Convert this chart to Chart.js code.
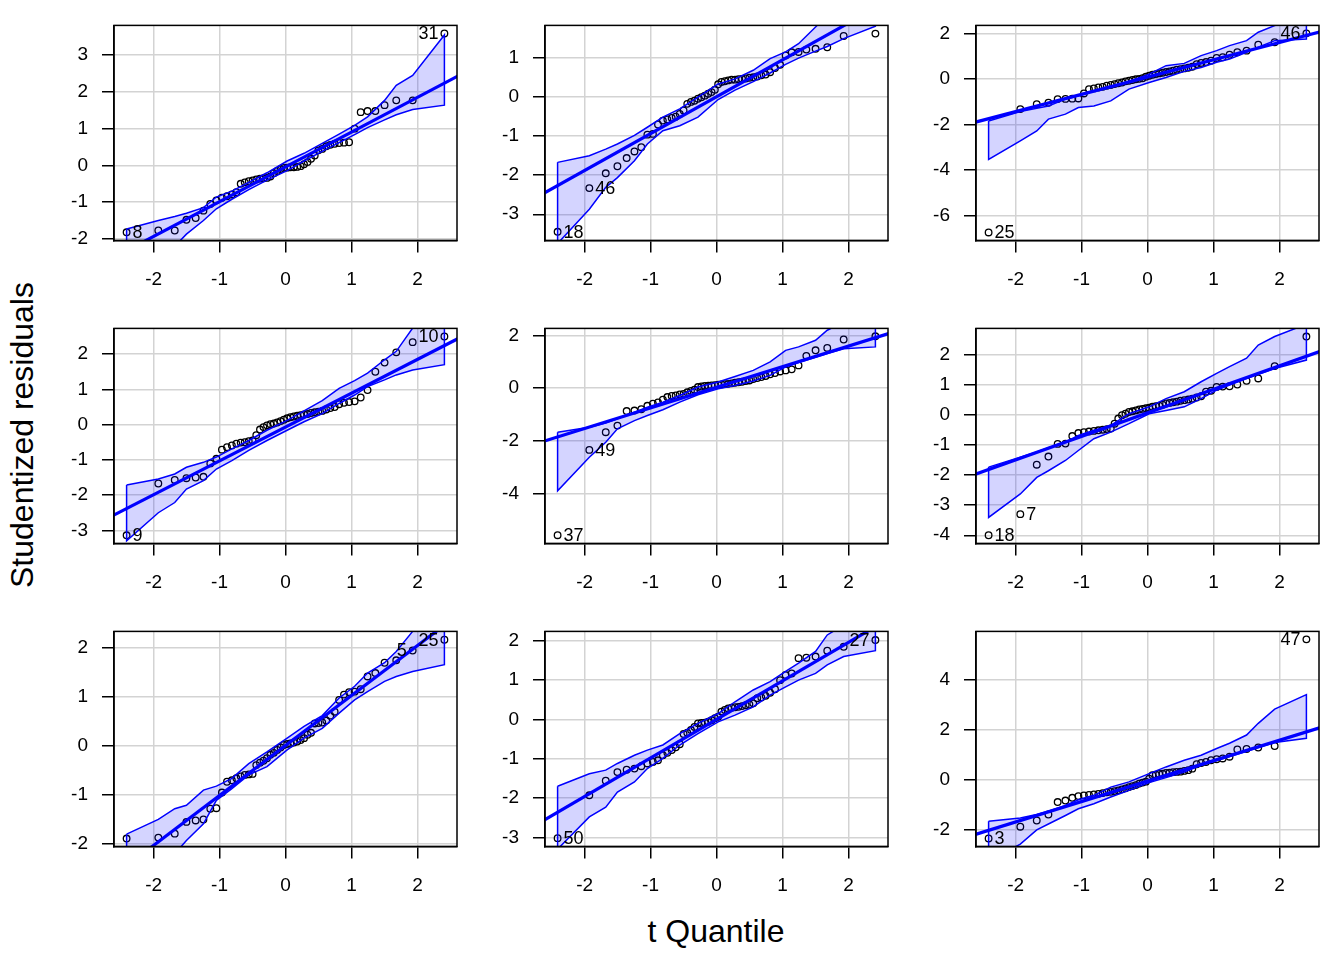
<!DOCTYPE html>
<html><head><meta charset="utf-8">
<script src="https://cdn.jsdelivr.net/npm/chart.js@4.4.1/dist/chart.umd.min.js"></script>
<style>
html,body{margin:0;padding:0;background:#fff;}
#wrap{position:relative;width:1344px;height:960px;overflow:hidden;font-family:"Liberation Sans",Arial,sans-serif;}
canvas{position:absolute;}
.ttl{position:absolute;font-size:32px;line-height:1;color:#000;white-space:nowrap;}
#ylab{left:22px;top:435px;transform:translate(-50%,-50%) rotate(-90deg);}
#xlab{left:716px;top:931px;transform:translate(-50%,-50%);}
</style></head><body>
<div id="wrap">
 <div class="ttl" id="ylab">Studentized residuals</div>
 <div class="ttl" id="xlab">t Quantile</div>
</div>
<script>
// theoretical t quantiles (x positions of the 50 points)
const tQuantiles = [-2.409,-1.928,-1.679,-1.502,-1.362,-1.244,-1.140,-1.048,-0.964,-0.887,-0.813,-0.745,-0.679,-0.618,-0.557,-0.499,-0.443,-0.387,-0.334,-0.281,-0.229,-0.177,-0.126,-0.075,-0.025,0.025,0.075,0.126,0.177,0.229,0.281,0.334,0.387,0.443,0.499,0.557,0.618,0.679,0.745,0.813,0.887,0.964,1.048,1.140,1.244,1.362,1.502,1.679,1.928,2.409];
// quantiles at which the envelope is read
const envQuantiles = [-2.409,-1.928,-1.679,-1.502,-1.244,-1.048,-0.813,-0.557,-0.281,0.025,0.281,0.557,0.813,1.048,1.244,1.502,1.679,1.928,2.409];
const xTicks = [-2,-1,0,1,2];

// sorted studentized residuals, panel by panel
const resid1 = [-1.82,-1.77,-1.77,-1.48,-1.43,-1.23,-1.05,-0.95,-0.88,-0.84,-0.79,-0.73,-0.50,-0.46,-0.43,-0.41,-0.38,-0.36,-0.35,-0.34,-0.30,-0.21,-0.15,-0.10,-0.07,-0.06,-0.05,-0.05,-0.04,-0.02,0.03,0.09,0.18,0.27,0.41,0.45,0.52,0.56,0.59,0.61,0.62,0.63,1.00,1.45,1.48,1.48,1.64,1.77,1.77,3.59];
const resid2 = [-3.45,-2.33,-1.95,-1.77,-1.56,-1.39,-1.28,-0.96,-0.94,-0.70,-0.60,-0.57,-0.53,-0.50,-0.43,-0.34,-0.17,-0.12,-0.09,-0.04,0.00,0.04,0.09,0.13,0.19,0.33,0.39,0.41,0.43,0.45,0.45,0.46,0.47,0.48,0.50,0.51,0.53,0.56,0.58,0.64,0.75,0.83,1.07,1.15,1.16,1.22,1.24,1.28,1.57,1.63];
const resid3 = [-6.74,-1.32,-1.10,-1.04,-0.88,-0.87,-0.86,-0.85,-0.63,-0.44,-0.41,-0.37,-0.34,-0.29,-0.26,-0.22,-0.18,-0.15,-0.10,-0.07,-0.04,-0.01,0.01,0.04,0.10,0.15,0.19,0.22,0.25,0.28,0.31,0.34,0.37,0.41,0.44,0.47,0.50,0.54,0.66,0.71,0.75,0.81,0.93,0.96,1.07,1.18,1.25,1.51,1.62,2.01];
const resid4 = [-3.14,-1.67,-1.57,-1.52,-1.50,-1.48,-1.10,-0.97,-0.71,-0.64,-0.59,-0.54,-0.51,-0.50,-0.47,-0.45,-0.30,-0.14,-0.07,-0.02,0.01,0.03,0.06,0.10,0.14,0.18,0.21,0.23,0.25,0.27,0.29,0.30,0.33,0.35,0.37,0.39,0.43,0.47,0.50,0.58,0.62,0.64,0.66,0.77,0.98,1.50,1.76,2.05,2.34,2.50];
const resid5 = [-5.57,-2.34,-1.67,-1.42,-0.87,-0.85,-0.80,-0.67,-0.59,-0.54,-0.44,-0.34,-0.30,-0.28,-0.24,-0.22,-0.16,-0.11,-0.06,0.04,0.06,0.08,0.09,0.10,0.11,0.13,0.14,0.15,0.16,0.18,0.20,0.22,0.24,0.27,0.29,0.34,0.38,0.42,0.46,0.52,0.57,0.63,0.67,0.71,0.86,1.22,1.43,1.52,1.84,1.96];
const resid6 = [-4.00,-3.30,-1.66,-1.39,-0.97,-0.96,-0.71,-0.61,-0.58,-0.56,-0.54,-0.52,-0.50,-0.48,-0.46,-0.30,-0.13,-0.02,0.03,0.09,0.11,0.14,0.17,0.19,0.21,0.23,0.26,0.28,0.30,0.33,0.37,0.39,0.41,0.43,0.46,0.48,0.50,0.53,0.57,0.61,0.76,0.79,0.92,0.93,0.94,1.00,1.12,1.20,1.61,2.59];
const resid7 = [-1.89,-1.87,-1.79,-1.55,-1.52,-1.50,-1.28,-1.27,-0.95,-0.73,-0.70,-0.66,-0.62,-0.59,-0.58,-0.57,-0.39,-0.34,-0.30,-0.25,-0.18,-0.14,-0.08,-0.03,0.02,0.04,0.05,0.07,0.09,0.12,0.16,0.23,0.27,0.46,0.47,0.48,0.52,0.62,0.70,0.94,1.05,1.10,1.11,1.16,1.42,1.49,1.70,1.75,1.95,2.17];
const resid8 = [-3.02,-1.93,-1.56,-1.34,-1.28,-1.25,-1.19,-1.12,-1.08,-1.04,-0.91,-0.85,-0.78,-0.71,-0.63,-0.37,-0.34,-0.27,-0.19,-0.10,-0.09,-0.08,-0.06,-0.02,0.03,0.07,0.20,0.24,0.28,0.30,0.31,0.32,0.34,0.36,0.38,0.41,0.54,0.56,0.60,0.68,0.77,1.00,1.13,1.17,1.56,1.57,1.60,1.75,1.85,2.02];
const resid9 = [-2.36,-1.89,-1.64,-1.40,-0.90,-0.84,-0.73,-0.66,-0.63,-0.61,-0.59,-0.57,-0.54,-0.51,-0.49,-0.46,-0.43,-0.39,-0.35,-0.30,-0.26,-0.22,-0.16,-0.12,-0.08,0.04,0.18,0.20,0.23,0.24,0.27,0.28,0.30,0.31,0.32,0.35,0.38,0.44,0.62,0.67,0.71,0.78,0.82,0.85,0.92,1.21,1.23,1.29,1.35,5.63];

// confidence envelopes (upper / lower) at envQuantiles
const env1Upper = [-1.73,-1.50,-1.39,-1.30,-1.15,-0.86,-0.70,-0.46,-0.20,0.12,0.33,0.60,0.85,1.09,1.32,1.77,2.18,2.45,3.55];
const env1Lower = [-2.70,-2.45,-2.20,-1.87,-1.50,-1.18,-0.92,-0.66,-0.40,-0.14,0.12,0.38,0.62,0.84,1.03,1.24,1.38,1.52,1.64];
const env2Upper = [-1.67,-1.50,-1.33,-1.20,-0.98,-0.77,-0.51,-0.30,0.00,0.34,0.47,0.69,0.99,1.16,1.37,1.80,2.10,2.40,3.00];
const env2Lower = [-3.75,-2.87,-2.31,-2.06,-1.63,-1.20,-0.86,-0.73,-0.51,-0.06,0.18,0.40,0.62,0.84,1.00,1.18,1.30,1.50,1.82];
const env3Upper = [-1.84,-1.43,-1.28,-1.18,-0.88,-0.74,-0.51,-0.37,-0.10,0.22,0.59,0.69,1.03,1.25,1.47,1.69,2.06,2.35,2.70];
const env3Lower = [-3.53,-2.72,-2.28,-1.76,-1.54,-1.25,-1.18,-0.96,-0.44,-0.15,0.07,0.34,0.51,0.74,0.88,1.18,1.40,1.69,1.76];
const env4Upper = [-1.71,-1.54,-1.40,-1.21,-1.07,-0.92,-0.69,-0.45,-0.16,0.12,0.39,0.68,1.03,1.25,1.46,1.84,2.08,2.74,2.95];
const env4Lower = [-3.30,-2.50,-2.21,-1.83,-1.59,-1.26,-1.02,-0.73,-0.45,-0.16,0.08,0.31,0.60,0.84,1.08,1.27,1.41,1.55,1.70];
const env5Upper = [-1.67,-1.48,-1.32,-1.16,-0.91,-0.72,-0.53,-0.28,0.04,0.23,0.44,0.67,0.99,1.43,1.56,1.81,2.19,2.50,2.70];
const env5Lower = [-3.89,-2.62,-2.05,-1.54,-1.23,-1.04,-0.82,-0.53,-0.25,-0.03,0.10,0.27,0.48,0.80,0.97,1.17,1.31,1.49,1.56];
const env6Upper = [-1.74,-1.41,-1.24,-1.10,-0.91,-0.69,-0.52,-0.36,0.03,0.26,0.53,0.76,1.09,1.37,1.59,1.87,2.31,2.59,3.00];
const env6Lower = [-3.41,-2.63,-2.08,-1.86,-1.52,-1.19,-0.80,-0.58,-0.30,0.03,0.14,0.26,0.53,0.81,0.98,1.20,1.34,1.53,1.81];
const env7Upper = [-1.80,-1.50,-1.28,-1.21,-0.90,-0.82,-0.66,-0.36,-0.12,0.16,0.40,0.62,0.98,1.22,1.49,1.70,1.93,2.34,2.80];
const env7Lower = [-3.00,-2.50,-2.20,-1.93,-1.59,-1.11,-0.87,-0.59,-0.42,-0.08,0.16,0.36,0.67,0.94,1.11,1.32,1.42,1.52,1.66];
const env8Upper = [-1.70,-1.38,-1.29,-1.12,-0.91,-0.78,-0.65,-0.36,-0.10,0.15,0.45,0.75,0.96,1.22,1.43,1.73,2.15,2.40,2.60];
const env8Lower = [-3.30,-2.48,-2.23,-1.85,-1.59,-1.25,-0.99,-0.65,-0.36,-0.06,0.11,0.32,0.62,0.83,1.00,1.17,1.39,1.60,1.75];
const env9Upper = [-1.67,-1.54,-1.40,-1.27,-1.04,-0.81,-0.63,-0.30,-0.09,0.24,0.51,0.78,0.98,1.25,1.46,1.79,2.26,2.83,3.41];
const env9Lower = [-3.26,-2.59,-2.02,-1.78,-1.44,-1.17,-0.97,-0.70,-0.43,-0.12,0.08,0.30,0.58,0.77,0.93,1.14,1.29,1.49,1.66];

// reference lines (intercept, slope) per panel
const lineIntercepts = [-0.04,0.01,0.09,-0.07,0.03,0.06,0.01,0.00,-0.06];
const lineSlopes = [0.946,0.945,0.76,0.96,0.78,0.78,1.02,0.98,0.82];

// y axis limits and ticks per panel
const yMins = [-2.04,-3.67,-7.09,-3.37,-5.88,-4.27,-2.05,-3.23,-2.68];
const yMaxs = [3.81,1.84,2.36,2.73,2.26,2.86,2.34,2.24,5.95];
const yTicks1 = [-2,-1,0,1,2,3];
const yTicks2 = [-3,-2,-1,0,1];
const yTicks3 = [-6,-4,-2,0,2];
const yTicks4 = [-3,-2,-1,0,1,2];
const yTicks5 = [-4,-2,0,2];
const yTicks6 = [-4,-3,-2,-1,0,1,2];
const yTicks7 = [-2,-1,0,1,2];
const yTicks8 = [-3,-2,-1,0,1,2];
const yTicks9 = [-2,0,2,4];

// labelled observations (index into sorted points, text)
const labelIdx1 = [0,49], labelText1 = ['8','31'];
const labelIdx2 = [0,1],  labelText2 = ['18','46'];
const labelIdx3 = [0,49], labelText3 = ['25','46'];
const labelIdx4 = [0,49], labelText4 = ['9','10'];
const labelIdx5 = [0,1],  labelText5 = ['37','49'];
const labelIdx6 = [0,1],  labelText6 = ['18','7'];
const labelIdx7 = [48,49],labelText7 = ['5','25'];
const labelIdx8 = [0,49], labelText8 = ['50','27'];
const labelIdx9 = [0,49], labelText9 = ['3','47'];

const residuals = [resid1,resid2,resid3,resid4,resid5,resid6,resid7,resid8,resid9];
const envUpper = [env1Upper,env2Upper,env3Upper,env4Upper,env5Upper,env6Upper,env7Upper,env8Upper,env9Upper];
const envLower = [env1Lower,env2Lower,env3Lower,env4Lower,env5Lower,env6Lower,env7Lower,env8Lower,env9Lower];
const yTicks = [yTicks1,yTicks2,yTicks3,yTicks4,yTicks5,yTicks6,yTicks7,yTicks8,yTicks9];
const labelIdx = [labelIdx1,labelIdx2,labelIdx3,labelIdx4,labelIdx5,labelIdx6,labelIdx7,labelIdx8,labelIdx9];
const labelText = [labelText1,labelText2,labelText3,labelText4,labelText5,labelText6,labelText7,labelText8,labelText9];

// layout
const colLefts = [114,545,976];
const rowTops = [25,328,631];
const PW = 343, PH = 215, LM = 100, TM = 20, RM = 10, BM = 60;
const FONT = '"Liberation Sans", Arial, sans-serif';
Chart.defaults.font.family = FONT;

const framePlugin = {
  id:'frame',
  afterDatasetsDraw(chart){
    const a = chart.chartArea, ctx = chart.ctx;
    ctx.save(); ctx.strokeStyle='#000'; ctx.lineWidth=1.5;
    ctx.strokeRect(a.left, a.top, a.right-a.left, a.bottom-a.top);
    ctx.restore();
  }
};
const labelPlugin = {
  id:'ptLabels',
  afterDatasetsDraw(chart, args, opts){
    const ctx = chart.ctx, xs = chart.scales.x, ys = chart.scales.y;
    ctx.save();
    ctx.font = '18px ' + FONT; ctx.fillStyle = '#000'; ctx.textBaseline = 'middle';
    opts.idx.forEach((i, j) => {
      const px = xs.getPixelForValue(tQuantiles[i]);
      const py = ys.getPixelForValue(opts.res[i]);
      if (i < 25) { ctx.textAlign = 'left'; ctx.fillText(opts.text[j], px + 6, py + 1); }
      else { ctx.textAlign = 'right'; ctx.fillText(opts.text[j], px - 6, py + 1); }
    });
    ctx.restore();
  }
};

const wrap = document.getElementById('wrap');
for (let k = 0; k < 9; k++) {
  const left = colLefts[k % 3], top = rowTops[Math.floor(k / 3)];
  const cv = document.createElement('canvas');
  let W = LM + PW + RM, H = TM + PH + BM;
  cv.width = W; cv.height = H;
  cv.style.left = (left - LM) + 'px'; cv.style.top = (top - TM) + 'px';
  cv.style.width = W + 'px'; cv.style.height = H + 'px';
  wrap.appendChild(cv);

  const res = residuals[k];
  const pts = tQuantiles.map((q, i) => ({x: q, y: res[i]}));
  const up = envUpper[k], lo = envLower[k];
  const poly = envQuantiles.map((q, i) => ({x: q, y: up[i]}))
    .concat(envQuantiles.map((q, i) => ({x: q, y: lo[i]})).reverse());
  poly.push(poly[0]);
  const a = lineIntercepts[k], b = lineSlopes[k];
  const ln = [{x: -2.8, y: a + b * -2.8}, {x: 2.8, y: a + b * 2.8}];
  const yt = yTicks[k];

  const chart = new Chart(cv, {
    type: 'scatter',
    data: { datasets: [
      { type:'line', data: poly, borderColor:'#0000ff', borderWidth:1.5, backgroundColor:'rgba(0,0,255,0.17)',
        fill:'shape', pointRadius:0, tension:0, clip:0 },
      { type:'line', data: ln, borderColor:'#0000ff', borderWidth:3.2, pointRadius:0, fill:false, tension:0, clip:0 },
      { type:'scatter', data: pts, pointRadius:3.3, pointBorderWidth:1.3, pointBorderColor:'#000',
        pointBackgroundColor:'rgba(0,0,0,0)', showLine:false, clip:8 }
    ]},
    options: {
      responsive:false, maintainAspectRatio:false, animation:false, devicePixelRatio:1, events:[],
      layout:{ padding:{ top:TM, right:RM, left:0, bottom:0 } },
      plugins:{ legend:{display:false}, tooltip:{enabled:false},
        ptLabels:{ idx: labelIdx[k], text: labelText[k], res: res } },
      scales:{
        x:{ type:'linear', min:-2.6, max:2.6,
          afterBuildTicks: s => { s.ticks = xTicks.map(v => ({value:v})); },
          afterFit: s => { s.height = BM; },
          grid:{ color:'#d3d3d3', lineWidth:1.5, tickColor:'#000', tickLength:12, tickWidth:1.5 },
          border:{ display:true, color:'#000', width:1.5 },
          ticks:{ color:'#000', font:{size:19}, padding:16, maxRotation:0, autoSkip:false, callback: v => String(v) } },
        y:{ type:'linear', min:yMins[k], max:yMaxs[k],
          afterBuildTicks: s => { s.ticks = yt.map(v => ({value:v})); },
          afterFit: s => { s.width = LM; },
          grid:{ color:'#d3d3d3', lineWidth:1.5, tickColor:'#000', tickLength:12, tickWidth:1.5 },
          border:{ display:true, color:'#000', width:1.5 },
          ticks:{ color:'#000', font:{size:19}, padding:14, autoSkip:false, callback: v => String(v) } }
      }
    },
    plugins:[framePlugin, labelPlugin]
  });

  // make the plotting area exactly PW x PH and place it at (left, top)
  let ca = chart.chartArea;
  const dw = PW - (ca.right - ca.left), dh = PH - (ca.bottom - ca.top);
  if (Math.abs(dw) > 0.5 || Math.abs(dh) > 0.5) {
    W += dw; H += dh;
    cv.style.width = W + 'px'; cv.style.height = H + 'px';
    chart.resize(W, H);
    ca = chart.chartArea;
  }
  cv.style.left = (left - ca.left) + 'px';
  cv.style.top = (top - ca.top) + 'px';
}
</script>
</body></html>
